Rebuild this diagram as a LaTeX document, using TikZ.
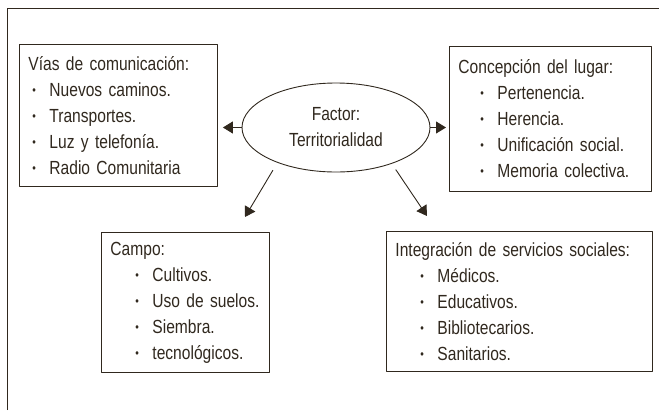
\documentclass[tikz,border=0pt]{standalone}
\usepackage{fontspec}
\setmainfont{Liberation Sans}[FakeStretch=0.82]
\usetikzlibrary{arrows.meta,shapes.geometric}
\definecolor{tinta}{RGB}{48,40,30}
% vineta con sangria propia de cada cuadro
\newcommand{\vin}[2]{\hspace*{#1pt}\makebox[17pt][l]{\raisebox{0.2ex}{\scalebox{0.65}{\textbullet}}}\mbox{#2}}
\begin{document}
\begin{tikzpicture}[x=1pt, y=-1pt, line join=round, tinta, line width=0.9pt,
	font=\fontsize{19}{26}\selectfont,
	>={Triangle[length=10pt,width=12pt]},
	caja/.style={draw, anchor=north west, align=left, inner xsep=9pt, inner ysep=0pt}]
	\useasboundingbox (0,0) rectangle (659,410);
	\draw (7,410) -- (7,8) -- (659,8);
	% factor central
	\node[draw, ellipse, minimum width=188pt, minimum height=89pt, align=center, inner sep=0pt] (fac) at (336,127.5) {Factor:\\Territorialidad};
	% cuadros
	\node[caja, minimum width=198pt, minimum height=142pt, text width=180pt] (vias) at (19,44)
		{V\'ias de comunicaci\'on:\\ \vin{4}{Nuevos caminos.}\\ \vin{4}{Transportes.}\\ \vin{4}{Luz y telefon\'ia.}\\ \vin{4}{Radio Comunitaria}};
	\node[caja, minimum width=202pt, minimum height=145pt, text width=184pt] (conc) at (449,46)
		{Concepci\'on del lugar:\\ \vin{22}{Pertenencia.}\\ \vin{22}{Herencia.}\\ \vin{22}{Unificaci\'on social.}\\ \vin{22}{Memoria colectiva.}};
	\node[caja, minimum width=168pt, minimum height=140pt, text width=150pt] (campo) at (101,232)
		{Campo:\\ \vin{25}{Cultivos.}\\ \vin{25}{Uso de suelos.}\\ \vin{25}{Siembra.}\\ \vin{25}{tecnol\'ogicos.}};
	\node[caja, minimum width=266pt, minimum height=140pt, text width=248pt] (integ) at (386,231)
		{Integraci\'on de servicios sociales:\\ \vin{25}{M\'edicos.}\\ \vin{25}{Educativos.}\\ \vin{25}{Bibliotecarios.}\\ \vin{25}{Sanitarios.}};
	% flechas
	\coordinate (pc) at (245,217);
	\coordinate (pi) at (427,216);
	\draw[->, shorten >=5pt] (fac.west) -- (fac.west -| vias.east);
	\draw[->, shorten >=3pt] (fac.east) -- (fac.east -| conc.west);
	\draw[->, shorten <=8.7pt] (fac.211) -- (pc);
	\draw[->, shorten <=7pt] (fac.327.6) -- (pi);
\end{tikzpicture}
\end{document}
